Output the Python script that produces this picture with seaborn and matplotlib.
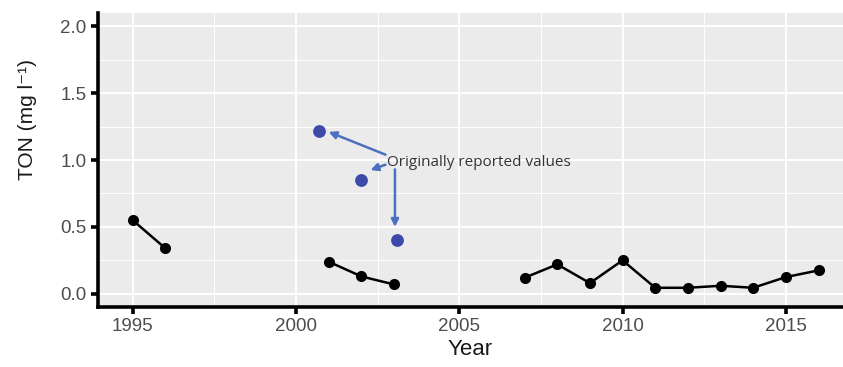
import numpy as np
import pandas as pd
import matplotlib
matplotlib.use("Agg")
import matplotlib.pyplot as plt
from matplotlib.ticker import MultipleLocator
import seaborn as sns

# Annual TON concentrations (mg l-1), split into continuous monitoring runs
years = [1995, 1996, 2001, 2002, 2003, 2007, 2008, 2009, 2010, 2011, 2012, 2013, 2014, 2015, 2016]
ton = [0.55, 0.34, 0.24, 0.13, 0.07, 0.12, 0.22, 0.08, 0.25, 0.045, 0.045, 0.06, 0.045, 0.125, 0.175]
runs = [1, 1, 2, 2, 2, 3, 3, 3, 3, 3, 3, 3, 3, 3, 3]

# Values as they were first reported
orig_years = [2000.7, 2002.0, 2003.1]
orig_ton = [1.22, 0.85, 0.40]

annot_text = "Originally reported values"

df = pd.DataFrame({"Year": years, "TON": ton, "run": runs})
orig = pd.DataFrame({"Year": orig_years, "TON": orig_ton})

sns.set_theme(style="darkgrid")
plt.rcParams["font.family"] = ["Liberation Sans", "DejaVu Sans"]

fig = plt.figure(figsize=(8.43, 3.67), dpi=100)
ax = fig.add_axes([0.116, 0.163, 0.884, 0.802])
ax.set_facecolor("#ebebeb")

sns.lineplot(data=df, x="Year", y="TON", units="run", estimator=None,
             color="black", linewidth=1.8, marker="o", markersize=8,
             markeredgewidth=0, ax=ax, zorder=3)
sns.scatterplot(data=orig, x="Year", y="TON", color="#3e4aa8", s=85,
                linewidth=0, ax=ax, zorder=4)

arrow_color = "#4d6fc0"
arrow_props = dict(arrowstyle="-|>", color=arrow_color, lw=1.8,
                   mutation_scale=11, shrinkA=0, shrinkB=0)
ax.annotate("", xy=(orig_years[0] + 0.3, orig_ton[0] - 0.01), xytext=(2002.74, 1.04),
            arrowprops=arrow_props)
ax.annotate("", xy=(orig_years[1] + 0.28, 0.925), xytext=(2002.74, 0.965),
            arrowprops=arrow_props)
ax.annotate("", xy=(2003.03, 0.50), xytext=(2003.03, 0.93),
            arrowprops=arrow_props)
ax.text(2002.8, 0.98, annot_text, fontsize=11, color="#333333",
        family=["Open Sans", "DejaVu Sans"], va="center", ha="left", zorder=5)

ax.set_xlim(1993.93, 2016.75)
ax.set_ylim(-0.1, 2.1)
ax.xaxis.set_major_locator(MultipleLocator(5))
ax.xaxis.set_minor_locator(MultipleLocator(2.5))
ax.yaxis.set_major_locator(MultipleLocator(0.5))
ax.yaxis.set_minor_locator(MultipleLocator(0.25))
ax.yaxis.set_major_formatter(matplotlib.ticker.FormatStrFormatter("%.1f"))

ax.grid(which="major", color="white", linewidth=1.4)
ax.grid(which="minor", color="white", linewidth=0.7)
ax.set_axisbelow(True)

for side in ["top", "right"]:
    ax.spines[side].set_visible(False)
for side in ["left", "bottom"]:
    ax.spines[side].set_visible(True)
    ax.spines[side].set_color("black")
    ax.spines[side].set_linewidth(2.6)

ax.tick_params(axis="both", which="major", length=5, width=2.6, color="black",
               labelsize=13.5, labelcolor="#4d4d4d", pad=3, bottom=True, left=True)
ax.tick_params(axis="both", which="minor", length=0)

ax.set_xlabel("Year", fontsize=16, color="#1a1a1a", labelpad=3)
ax.set_ylabel("TON (mg l⁻¹)", fontsize=15, color="#1a1a1a")
ax.yaxis.set_label_coords(-0.081, 0.636)

fig.savefig("out.png", dpi=100)
